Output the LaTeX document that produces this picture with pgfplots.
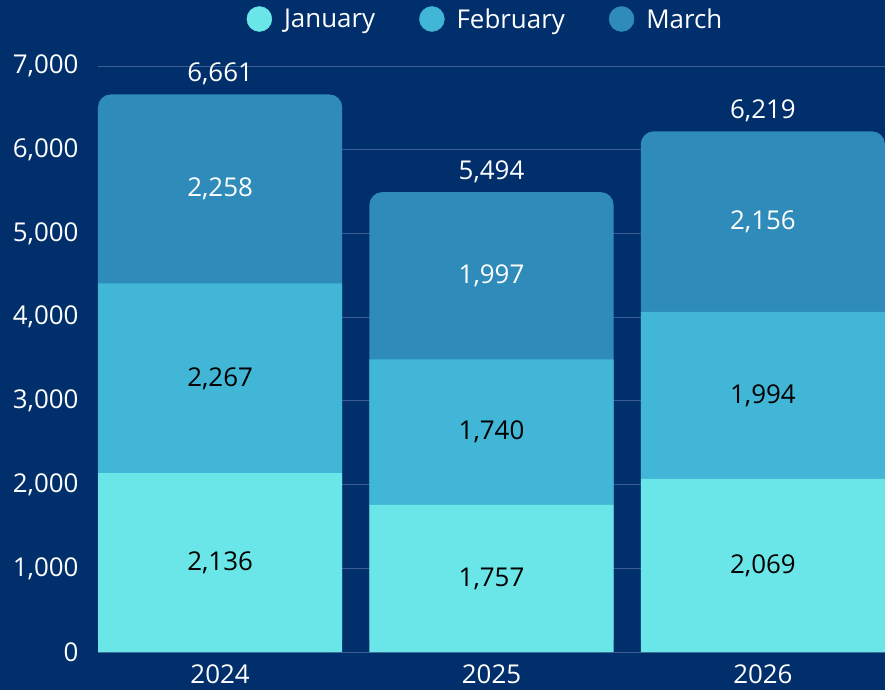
\documentclass[border=0pt]{standalone}
\usepackage{fontspec}
\setmainfont{Open Sans}
\usepackage{pgfplots}
\pgfplotsset{compat=1.18}
\definecolor{bgnavy}{HTML}{002F6C}
\definecolor{janc}{HTML}{6BE6E8}
\definecolor{febc}{HTML}{41B6D6}
\definecolor{marc}{HTML}{2E8BBA}
\definecolor{gridc}{HTML}{3D5C91}
\newcommand\cf{\fontsize{26}{30}\selectfont}

\pgfplotsset{
  common/.style={
    at={(0,0)}, anchor=south west,
    scale only axis, width=787bp, height=586bp,
    xmin=-0.45, xmax=2.45, ymin=0, ymax=7000,
    clip=false,
    /pgf/number format/assume math mode=true,
    /pgf/number format/1000 sep={,},
    axis line style={draw=none},
    major tick length=0pt,
  },
  dot/.style={legend image code/.code={\fill[#1] (0bp,0bp) circle (12.5bp);}},
}

\begin{document}
\begin{tikzpicture}
\useasboundingbox (-98bp,-38bp) rectangle (787bp,652bp);
\fill[bgnavy] (-98bp,-38bp) rectangle (787bp,652bp);

% totals with rounded tops (show as the March segment)
\begin{axis}[common,
  ybar, bar width=0.9, bar shift=0pt,
  ytick={0,1000,...,7000},
  xtick={0,1,2}, xticklabels={2024,2025,2026},
  ymajorgrids, grid style={gridc, line width=1bp},
  tick label style={font=\cf, text=white},
  yticklabel style={xshift=-16bp},
  xticklabel style={yshift=-9bp},
  nodes near coords,
  every node near coord/.append style={font=\cf, text=white, anchor=south, yshift=6bp},
]
\addplot[fill=marc, draw=none, rounded corners=13bp] coordinates {(0,6661) (1,5494) (2,6219)};
\end{axis}

% stacked segments
\begin{axis}[common,
  ybar stacked, bar width=0.9,
  xtick=\empty, ytick=\empty,
  nodes near coords,
  every node near coord/.append style={font=\cf, anchor=center},
  legend style={at={(0.4924,1.0802)}, anchor=center, draw=none, fill=none,
    font=\cf, text=white, legend columns=3,
    /tikz/every odd column/.append style={column sep=10bp},
    /tikz/every even column/.append style={column sep=42bp}},
]
\addplot[fill=janc, draw=none, forget plot, every node near coord/.append style={text=black}]
  coordinates {(0,2136) (1,1757) (2,2069)};
\addplot[fill=febc, draw=none, forget plot, every node near coord/.append style={text=black}]
  coordinates {(0,2267) (1,1740) (2,1994)};
\addplot[fill=none, draw=none, forget plot, every node near coord/.append style={text=white}]
  coordinates {(0,2258) (1,1997) (2,2156)};
\addlegendimage{dot=janc}
\addlegendimage{dot=febc}
\addlegendimage{dot=marc}
\legend{January, February, March}
\end{axis}
\end{tikzpicture}
\end{document}
